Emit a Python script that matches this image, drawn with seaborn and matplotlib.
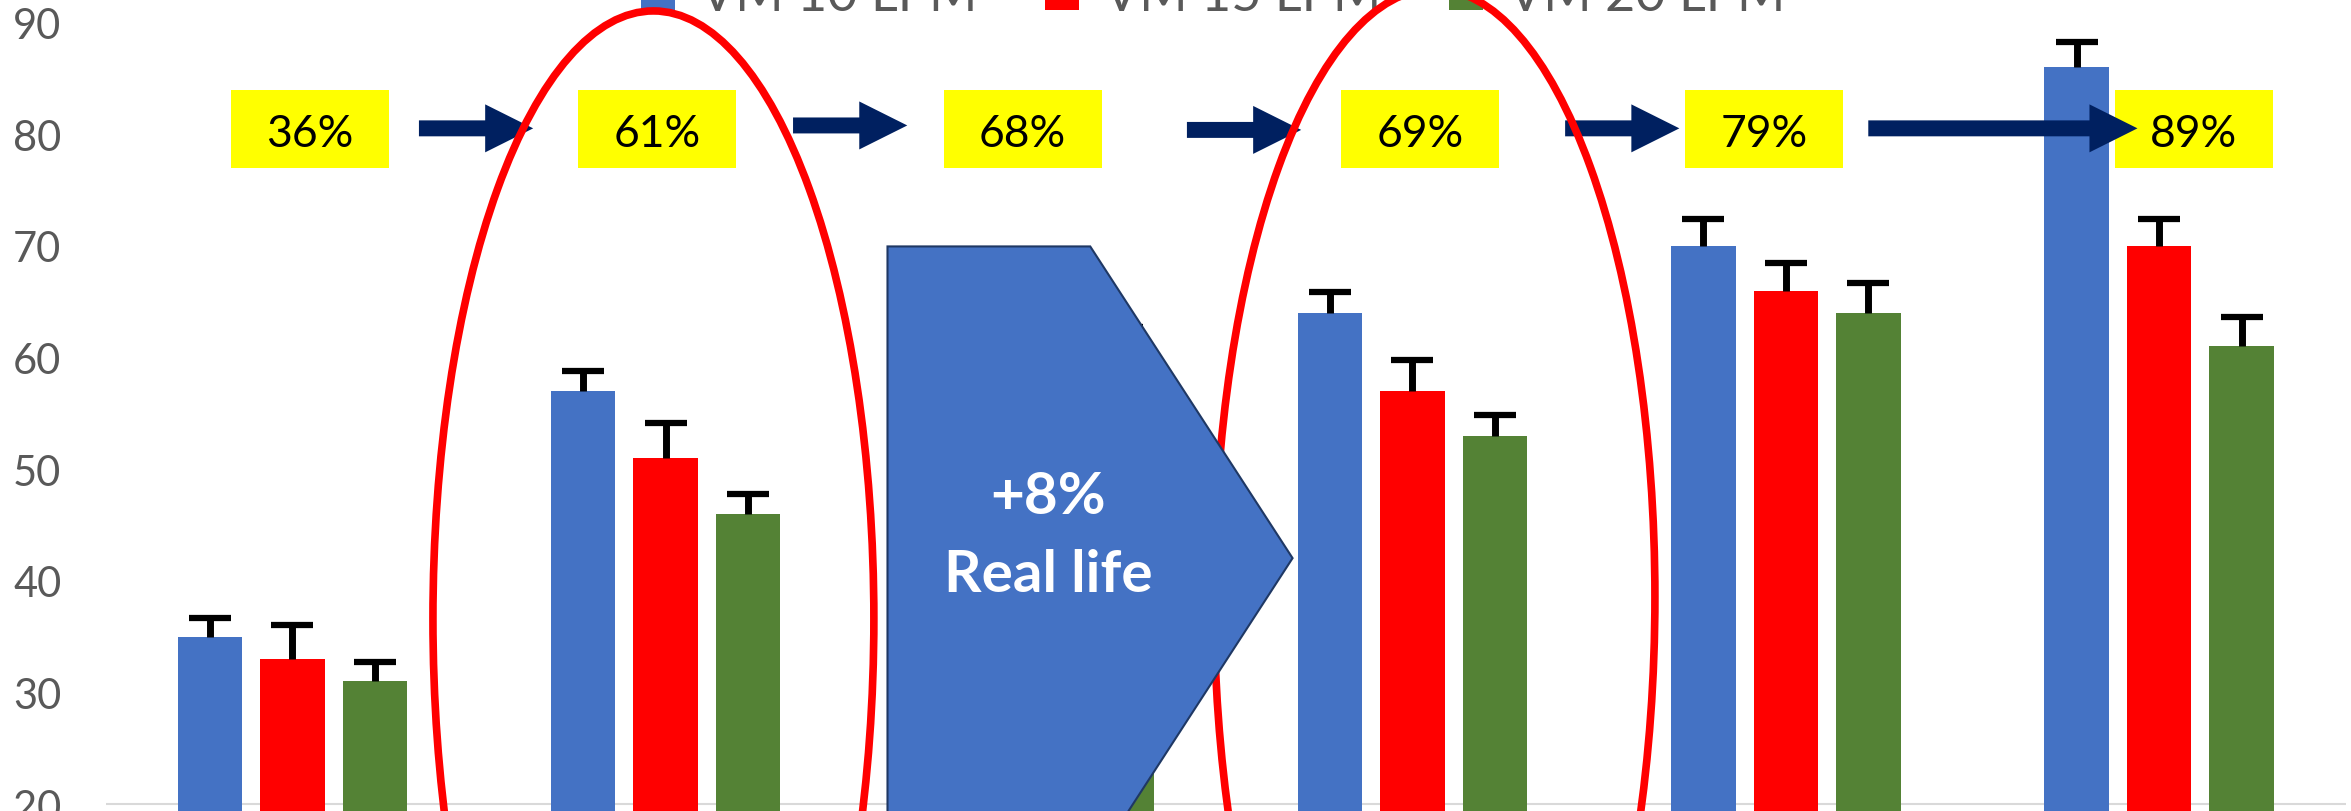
import numpy as np
import pandas as pd
import matplotlib
matplotlib.use("Agg")
import matplotlib.pyplot as plt
import seaborn as sns
from matplotlib.patches import Rectangle, Ellipse, Polygon, FancyArrow

# ---------------- data ----------------
groups = ["G1", "G2", "G3", "G4", "G5", "G6"]
series = ["VM 10 LPM", "VM 15 LPM", "VM 20 LPM"]
vm10 = [35, 57, 62, 64, 70, 86]
vm15 = [33, 51, 59, 57, 66, 70]
vm20 = [31, 46, 60, 53, 64, 61]
err10 = [1.7, 1.8, 2.0, 1.9, 2.4, 2.3]
err15 = [3.0, 3.1, 2.5, 2.8, 2.5, 2.4]
err20 = [1.7, 1.8, 2.7, 1.9, 2.7, 2.6]
pct_labels = ["36%", "61%", "68%", "69%", "79%", "89%"]
callout_lines = ["+8%", "Real life"]
yticks = [20, 30, 40, 50, 60, 70, 80, 90]

colors = ["#4472C4", "#FF0000", "#548235"]

df = pd.DataFrame(
    [(g, s, v) for s, vals in zip(series, [vm10, vm15, vm20])
     for g, v in zip(groups, vals)],
    columns=["group", "series", "value"],
)
errs_by_series = [err10, err15, err20]

# ---------------- style ----------------
sns.set_theme(style="white")
plt.rcParams["font.family"] = ["Lato", "DejaVu Sans"]

W, H = 2351, 812
fig = plt.figure(figsize=(W / 100, H / 100), dpi=100)
ax = fig.add_axes([105.7 / W, 0, 2240.1 / W, 1])

sns.barplot(
    data=df, x="group", y="value", hue="series",
    order=groups, hue_order=series, palette=colors, saturation=1,
    errorbar=None, width=0.663, gap=0.218, linewidth=0, ax=ax,
)

# upper-only error bars with a single cap
cap_half = 0.0563
for cont, errs in zip(ax.containers, errs_by_series):
    for bar, e in zip(cont, errs):
        xc = bar.get_x() + bar.get_width() / 2
        top = bar.get_y() + bar.get_height()
        ax.vlines(xc, top, top + e, color="black", lw=5, zorder=3,
                  capstyle="butt")
        ax.hlines(top + e, xc - cap_half, xc + cap_half, color="black",
                  lw=4.5, zorder=3, capstyle="butt")

ax.set_xlim(-0.5, 5.5)
ax.set_ylim(19.373, 92.13)
for sp in ax.spines.values():
    sp.set_visible(False)
ax.axhline(20, color="#D9D9D9", lw=1.5, zorder=0.5)
ax.set_yticks(yticks)
ax.set_yticklabels([str(t) for t in yticks])
ax.tick_params(axis="y", length=0, pad=32, labelsize=30, labelcolor="#595959")
ax.set_xticks([])
ax.set_xlabel("")
ax.set_ylabel("")

# yellow percentage boxes
box_x = [0.047, 0.976, 1.956, 3.020, 3.942, 5.093]
for x, t in zip(box_x, pct_labels):
    ax.add_patch(Rectangle((x - 0.2117, 77.0), 0.4233, 7.0, fc="#FFFF00",
                           ec="none", zorder=4))
    ax.text(x, 78.96, t, ha="center", va="baseline", fontsize=32,
            color="black", zorder=5)

# navy arrows
arrow_spans = [(0.339, 0.645, 80.54), (1.341, 1.647, 80.8), (2.396, 2.702, 80.4),
               (3.409, 3.715, 80.54), (4.221, 4.942, 80.54)]
for x0, x1, y in arrow_spans:
    ax.add_patch(FancyArrow(x0, y, x1 - x0, 0, width=1.43, head_width=4.3,
                            head_length=0.1286, length_includes_head=True,
                            fc="#002060", ec="none", zorder=6))

# red ellipses
for cx, cy in [(0.967, 36.58), (3.059, 38.55)]:
    ax.add_patch(Ellipse((cx, cy), 1.181, 108.96, fill=False, ec="#FF0000",
                         lw=5.5, zorder=7))

# pentagon callout
pent = Polygon([(1.594, 69.96), (2.137, 69.96), (2.679, 42.03),
                (2.137, 14.09), (1.594, 14.09)], closed=True,
               fc="#4472C4", ec="#1F3864", lw=1.5, zorder=8)
ax.add_patch(pent)
ax.text(2.024, 46.08, callout_lines[0], ha="center", va="baseline",
        fontsize=42, fontweight="bold", color="white", zorder=9)
ax.text(2.024, 39.09, callout_lines[1], ha="center", va="baseline",
        fontsize=42, fontweight="bold", color="white", zorder=9)

# legend (cut at top as in reference)
handles, labels = ax.get_legend_handles_labels()
leg = ax.legend(handles, labels, loc="center",
                bbox_to_anchor=(1213 / W, (H + 3) / H),
                bbox_transform=fig.transFigure, ncol=3, frameon=False,
                fontsize=37.5, labelcolor="#595959", handlelength=0.66,
                handleheight=0.66, handletextpad=0.47, columnspacing=1.30,
                borderpad=0, borderaxespad=0)
leg.set_zorder(5)

fig.savefig("out.png", dpi=100)
